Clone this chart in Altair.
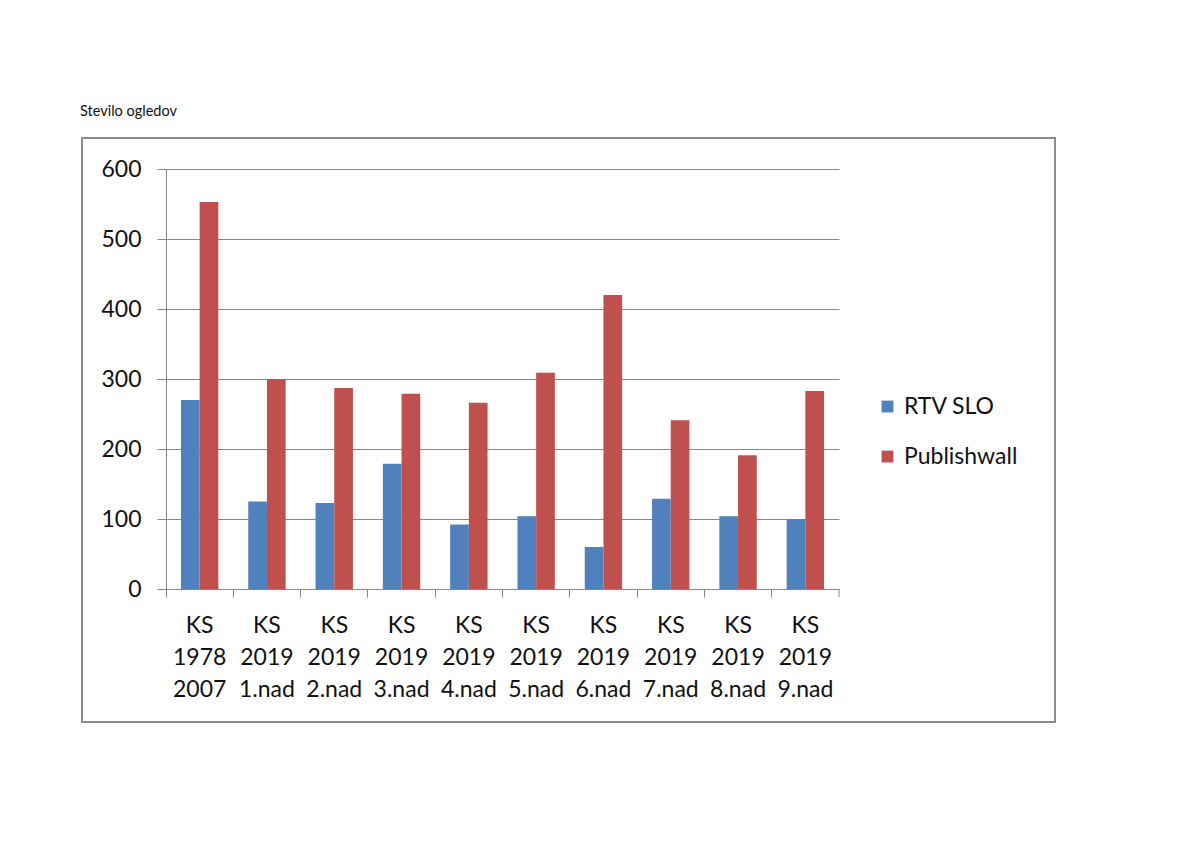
import altair as alt
import pandas as pd

categories = ["KS 1978 2007", "KS 2019 1.nad", "KS 2019 2.nad", "KS 2019 3.nad",
              "KS 2019 4.nad", "KS 2019 5.nad", "KS 2019 6.nad", "KS 2019 7.nad",
              "KS 2019 8.nad", "KS 2019 9.nad"]
series = ["RTV SLO", "Publishwall"]
rtv_slo = [270, 125, 123, 179, 92, 104, 60, 129, 104, 100]
publishwall = [553, 300, 287, 279, 266, 309, 420, 241, 191, 283]
y_ticks = [0, 100, 200, 300, 400, 500, 600]
title_text = "Stevilo ogledov"
colors = ["#4F81BD", "#C0504D"]

rows = []
for c, a, b in zip(categories, rtv_slo, publishwall):
    rows.append({"cat": c, "series": series[0], "value": a})
    rows.append({"cat": c, "series": series[1], "value": b})
df = pd.DataFrame(rows)

W, H = 673, 420
GRAY = "#878787"
FONT = "Lato"
TXT = "#111111"

bars = alt.Chart(df).mark_bar().encode(
    x=alt.X("cat:N", sort=categories,
            scale=alt.Scale(paddingInner=0, paddingOuter=0),
            axis=alt.Axis(title=None, labelExpr="split(datum.label, ' ')",
                          bandPosition=0, tickSize=8,
                          labelFontSize=23, labelFont=FONT, labelLineHeight=32,
                          labelPadding=17, labelAngle=0, labelOverlap=False,
                          labelColor=TXT, domainColor=GRAY, tickColor=GRAY,
                          grid=False)),
    xOffset=alt.XOffset("series:N", sort=series,
                        scale=alt.Scale(paddingInner=0, paddingOuter=0.8)),
    y=alt.Y("value:Q", scale=alt.Scale(domain=[0, 600], nice=False),
            axis=alt.Axis(title=None, values=y_ticks, grid=True, gridColor=GRAY,
                          domainColor=GRAY, tickColor=GRAY, tickSize=9,
                          labelFontSize=23, labelFont=FONT, labelPadding=16,
                          labelColor=TXT)),
    color=alt.Color("series:N", sort=series,
                    scale=alt.Scale(domain=series, range=colors),
                    legend=alt.Legend(title=None, orient="none", legendX=710,
                                      legendY=226, symbolType="square",
                                      symbolSize=140, symbolStrokeWidth=0,
                                      labelFontSize=23, labelFont=FONT,
                                      labelColor=TXT, rowPadding=26,
                                      labelOffset=5)),
)

one = pd.DataFrame({"t": [title_text]})

end_tick = alt.Chart(one).mark_rule(color=GRAY, strokeWidth=1).encode(
    x=alt.value(W), y=alt.value(H), y2=alt.value(H + 8))

frame = alt.Chart(one).mark_rect(filled=False, stroke="#8c8c8c", strokeWidth=2).encode(
    x=alt.value(-84), x2=alt.value(889), y=alt.value(-31), y2=alt.value(553))

title = alt.Chart(one).mark_text(align="left", baseline="middle", fontSize=14.5,
                                 font=FONT, color=TXT).encode(
    x=alt.value(-86), y=alt.value(-57), text="t:N")

chart = alt.layer(frame, bars, end_tick, title).properties(
    width=W, height=H,
    padding={"left": 158, "top": 161, "right": 353, "bottom": 239},
    autosize=alt.AutoSizeParams(type="none"),
    background="white",
).configure_view(stroke=None)

chart.save("out.html", embed_options={"renderer": "svg", "actions": False})
